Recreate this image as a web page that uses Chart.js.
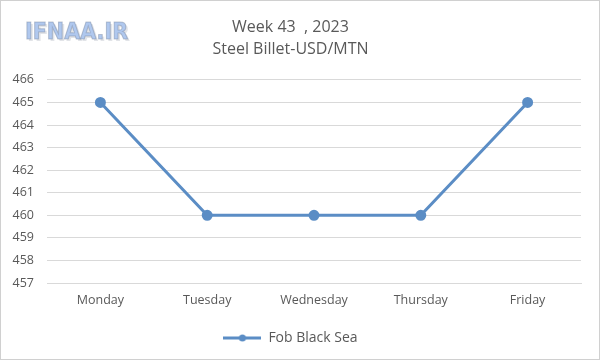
<!DOCTYPE html>
<html><head><meta charset="utf-8">
<script src="https://cdn.jsdelivr.net/npm/chart.js@4.4.0/dist/chart.umd.min.js"></script>
<style>html,body{margin:0;padding:0;background:#fff}canvas{display:block}</style>
</head><body>
<canvas id="c" width="600" height="360"></canvas>
<script>
const categories = ["Monday", "Tuesday", "Wednesday", "Thursday", "Friday"];
const fobBlackSea = [465, 460, 460, 460, 465];
const seriesName = "Fob Black Sea";
const titleLines = ["Week 43  , 2023", "Steel Billet-USD/MTN"];
const watermark = "IFNAA.IR";
const yMin = 457, yMax = 466, yStep = 1;

const LINE = "#5B8DC5";
const TXT = "#595959";
const FONT = "'Open Sans', 'Liberation Sans', sans-serif";

function legendIcon(){
  const c = document.createElement('canvas');
  c.width = 38; c.height = 10;
  const g = c.getContext('2d');
  g.strokeStyle = LINE; g.lineWidth = 3;
  g.beginPath(); g.moveTo(0,5); g.lineTo(38,5); g.stroke();
  g.fillStyle = LINE; g.beginPath(); g.arc(19,5,3.5,0,Math.PI*2); g.fill();
  return c;
}
const icon = legendIcon();

const frame = {
  id: 'frame',
  beforeDraw(chart){
    const ctx = chart.ctx;
    ctx.save();
    ctx.fillStyle = '#fff';
    ctx.fillRect(0,0,chart.width,chart.height);
    ctx.strokeStyle = '#D0D0D0';
    ctx.lineWidth = 1;
    ctx.strokeRect(0.5,0.5,chart.width-1,chart.height-1);
    ctx.font = "bold 23px 'DejaVu Sans Condensed', 'Liberation Sans', sans-serif";
    ctx.textBaseline = 'middle';
    ctx.textAlign = 'left';
    ctx.fillStyle = 'rgba(110,120,140,0.2)';
    ctx.fillText(watermark, 27, 35);
    ctx.fillStyle = '#B0C8EE';
    ctx.fillText(watermark, 25, 33);
    ctx.lineWidth = 1;
    ctx.strokeStyle = 'rgba(110,125,150,0.4)';
    ctx.strokeText(watermark, 25, 33);
    ctx.restore();
  }
};

new Chart(document.getElementById('c'), {
  type: 'line',
  data: {
    labels: categories,
    datasets: [{
      label: seriesName,
      data: fobBlackSea,
      borderColor: LINE,
      backgroundColor: LINE,
      borderWidth: 3,
      pointRadius: 4,
      pointHoverRadius: 4,
      pointBackgroundColor: LINE,
      pointBorderColor: LINE,
      tension: 0
    }]
  },
  options: {
    responsive: false,
    animation: false,
    layout: { padding: { left: 0, right: 19, top: 9, bottom: 5 } },
    plugins: {
      title: {
        display: true,
        text: titleLines,
        color: TXT,
        font: { family: FONT, size: 16, weight: 'normal', lineHeight: 1.34 },
        padding: { top: 8, bottom: 20 }
      },
      legend: {
        position: 'bottom',
        labels: {
          color: TXT,
          font: { family: FONT, size: 14 },
          usePointStyle: true,
          pointStyleWidth: 38,
          boxHeight: 10,
          generateLabels(chart){
            return [{ text: seriesName, pointStyle: icon, fillStyle: LINE, strokeStyle: LINE, lineWidth: 0, datasetIndex: 0, fontColor: TXT }];
          },
          padding: 10
        },
        onClick: null
      },
      tooltip: { enabled: false }
    },
    scales: {
      x: {
        offset: true,
        grid: { display: false, drawTicks: false },
        border: { display: true, color: '#D9D9D9', width: 1 },
        ticks: { color: TXT, font: { family: FONT, size: 12.5 }, padding: 10, maxRotation: 0 },
        afterFit(s){ s.height = 38; }
      },
      y: {
        min: yMin, max: yMax,
        ticks: { stepSize: yStep, color: TXT, font: { family: FONT, size: 12.5 }, padding: 13 },
        grid: { color: '#D9D9D9', drawTicks: false },
        border: { display: false },
        afterFit(s){ s.width = 47; }
      }
    }
  },
  plugins: [frame]
});
</script>
</body></html>
